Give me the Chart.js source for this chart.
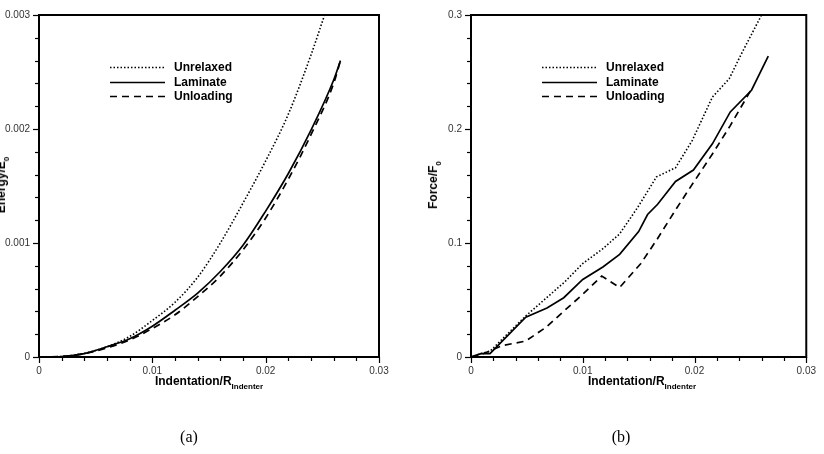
<!DOCTYPE html>
<html>
<head>
<meta charset="utf-8">
<script src="https://cdn.jsdelivr.net/npm/chart.js@4.4.1/dist/chart.umd.min.js"></script>
<style>
  html, body { margin: 0; padding: 0; background: #fff; }
  #page { position: relative; width: 824px; height: 454px; overflow: hidden; font-family: "Liberation Sans", Arial, sans-serif; }
  .panel { position: absolute; top: 0; width: 412px; height: 454px; }
  .xt, .yt { position: absolute; font-weight: bold; font-size: 12px; white-space: nowrap; color: #000; line-height: 14px; }
  .xt span, .yt span { font-size: 8px; vertical-align: -4px; }
  .xt { top: 374px; transform: translateX(-50%); }
  .yt { transform: translate(-50%, -50%) rotate(-90deg); }
  .cap { position: absolute; top: 428px; font-family: "Liberation Serif", "DejaVu Serif", serif; font-size: 16px; transform: translateX(-50%); }
</style>
</head>
<body>
<div id="page">
  <canvas id="energyChart" class="panel" style="left:0" width="412" height="454"></canvas>
  <canvas id="forceChart" class="panel" style="left:412px" width="412" height="454"></canvas>
  <div class="yt" style="left:4px; top:185px">Energy/E<span>0</span></div>
  <div class="xt" style="left:209px">Indentation/R<span>Indenter</span></div>
  <div class="cap" style="left:189px">(a)</div>
  <div class="yt" style="left:436px; top:185px">Force/F<span>0</span></div>
  <div class="xt" style="left:642px">Indentation/R<span>Indenter</span></div>
  <div class="cap" style="left:621px">(b)</div>
</div>
<script>
// (a) energy
const energyX = [0, 0.002, 0.004, 0.006, 0.008, 0.010, 0.012, 0.014, 0.016, 0.018, 0.020, 0.022, 0.024, 0.026, 0.0266];
const energyUnrelaxedX = [0, 0.002, 0.004, 0.006, 0.008, 0.010, 0.012, 0.014, 0.016, 0.018, 0.020, 0.022, 0.024, 0.0252];
const energyUnrelaxed = [0, 0.000005, 0.000032, 0.00009, 0.00018, 0.00032, 0.00048, 0.0007, 0.001, 0.00135, 0.00172, 0.00213, 0.00265, 0.003];
const energyLaminate = [0, 0.000004, 0.00003, 0.00009, 0.00016, 0.00027, 0.00041, 0.00056, 0.00075, 0.00098, 0.00128, 0.00161, 0.00199, 0.00243, 0.0026];
const energyUnloading = [0, 0.000004, 0.00003, 0.00008, 0.00015, 0.00025, 0.00037, 0.00053, 0.00071, 0.00094, 0.00122, 0.00156, 0.00195, 0.0024, 0.0026];

// (b) force
const forceUnrelaxedX = [0, 0.0009, 0.0017, 0.0049, 0.0084, 0.0100, 0.0118, 0.0133, 0.0149, 0.0166, 0.0183, 0.0198, 0.0216, 0.0231, 0.0242, 0.0260];
const forceUnrelaxed = [0, 0.003, 0.005, 0.036, 0.066, 0.082, 0.095, 0.108, 0.131, 0.158, 0.166, 0.19, 0.228, 0.244, 0.266, 0.3];
const forceLaminateX = [0, 0.0009, 0.0017, 0.0049, 0.0068, 0.0083, 0.0100, 0.0118, 0.0133, 0.0150, 0.0158, 0.0167, 0.0183, 0.0199, 0.0216, 0.0232, 0.0251, 0.0266];
const forceLaminate = [0, 0.003, 0.003, 0.035, 0.043, 0.052, 0.068, 0.079, 0.09, 0.11, 0.125, 0.134, 0.154, 0.164, 0.187, 0.215, 0.234, 0.264];
const forceUnloadingX = [0, 0.0009, 0.0028, 0.0049, 0.0067, 0.0084, 0.0100, 0.0117, 0.0133, 0.0152, 0.0167, 0.0183, 0.0199, 0.0216, 0.0232, 0.0251];
const forceUnloading = [0, 0.002, 0.010, 0.014, 0.026, 0.041, 0.055, 0.071, 0.061, 0.082, 0.104, 0.129, 0.153, 0.178, 0.203, 0.235];

const seriesNames = ['Unrelaxed', 'Laminate', 'Unloading'];
const seriesDash = [[1.5, 2], [], [7, 5]];

Chart.defaults.font.family = '"Liberation Sans", Arial, sans-serif';
Chart.defaults.font.size = 10;
Chart.defaults.color = '#333';

function pts(xs, ys) {
    return xs.map((x, i) => ({ x: x, y: ys[i] }));
}

function fmt(v) {
    return String(parseFloat(v.toPrecision(6)));
}

// frame box plus major/minor tick marks
const framePlugin = {
    id: 'frame',
    afterDraw(chart, args, opts) {
        const { ctx, chartArea: a, scales } = chart;
        ctx.save();
        ctx.strokeStyle = '#000';
        ctx.lineWidth = 1.2;
        const sx = scales.x, sy = scales.y;
        let n = Math.round((sx.max - sx.min) / opts.xMinor);
        for (let i = 0; i <= n; i++) {
            const px = Math.round(sx.getPixelForValue(sx.min + i * opts.xMinor)) + 0.5;
            const len = i % 5 === 0 ? 6 : 4;
            ctx.beginPath();
            ctx.moveTo(px, a.bottom);
            ctx.lineTo(px, a.bottom + len);
            ctx.stroke();
        }
        n = Math.round((sy.max - sy.min) / opts.yMinor);
        for (let i = 0; i <= n; i++) {
            const py = Math.round(sy.getPixelForValue(sy.min + i * opts.yMinor)) + 0.5;
            const len = i % 5 === 0 ? 6 : 4;
            ctx.beginPath();
            ctx.moveTo(a.left - len, py);
            ctx.lineTo(a.left, py);
            ctx.stroke();
        }
        ctx.lineWidth = 2;
        ctx.strokeRect(a.left, a.top, a.right - a.left, a.bottom - a.top);
        ctx.restore();
    }
};

// legend drawn inside the plot area
const legendPlugin = {
    id: 'insideLegend',
    afterDraw(chart) {
        const { ctx, chartArea: a } = chart;
        ctx.save();
        ctx.font = 'bold 12px "Liberation Sans", Arial, sans-serif';
        ctx.fillStyle = '#000';
        ctx.textBaseline = 'middle';
        chart.data.datasets.forEach((ds, i) => {
            const y = Math.round(a.top + 52 + i * 14.5) + 0.5;
            ctx.strokeStyle = '#000';
            ctx.lineWidth = ds.borderWidth;
            ctx.setLineDash(ds.borderDash);
            ctx.beginPath();
            ctx.moveTo(a.left + 71, y);
            ctx.lineTo(a.left + 126, y);
            ctx.stroke();
            ctx.setLineDash([]);
            ctx.fillText(ds.label, a.left + 135, y);
        });
        ctx.restore();
    }
};

function makeDatasets(data, tension) {
    return data.map((d, i) => ({
        label: seriesNames[i],
        data: d,
        borderColor: '#000',
        borderWidth: i === 0 ? 1.6 : 1.7,
        borderDash: seriesDash[i],
        pointRadius: 0,
        tension: tension,
        cubicInterpolationMode: tension ? 'monotone' : 'default',
        fill: false
    }));
}

function makeChart(id, datasets, yMax, yStep, yMinor, yWidth, pad) {
    new Chart(document.getElementById(id).getContext('2d'), {
        type: 'line',
        data: { datasets: datasets },
        options: {
            responsive: false,
            animation: false,
            layout: { padding: pad },
            plugins: {
                legend: { display: false },
                tooltip: { enabled: false },
                frame: { xMinor: 0.002, yMinor: yMinor }
            },
            scales: {
                x: {
                    type: 'linear',
                    min: 0,
                    max: 0.03,
                    grid: { display: false, drawTicks: false },
                    border: { display: false },
                    ticks: { stepSize: 0.01, padding: 8, maxRotation: 0, callback: fmt },
                    afterFit: s => { s.height = 24; }
                },
                y: {
                    type: 'linear',
                    min: 0,
                    max: yMax,
                    grid: { display: false, drawTicks: false },
                    border: { display: false },
                    ticks: { stepSize: yStep, padding: 9, callback: fmt },
                    afterFit: s => { s.width = yWidth; }
                }
            }
        },
        plugins: [framePlugin, legendPlugin]
    });
}

makeChart('energyChart', makeDatasets([
    pts(energyUnrelaxedX, energyUnrelaxed),
    pts(energyX, energyLaminate),
    pts(energyX, energyUnloading)
], 0.4), 0.003, 0.001, 0.0002, 39, { left: 0, top: 14, right: 33, bottom: 73 });

makeChart('forceChart', makeDatasets([
    pts(forceUnrelaxedX, forceUnrelaxed),
    pts(forceLaminateX, forceLaminate),
    pts(forceUnloadingX, forceUnloading)
], 0), 0.3, 0.1, 0.02, 59, { left: 0, top: 14, right: 12, bottom: 73 });
</script>
</body>
</html>
